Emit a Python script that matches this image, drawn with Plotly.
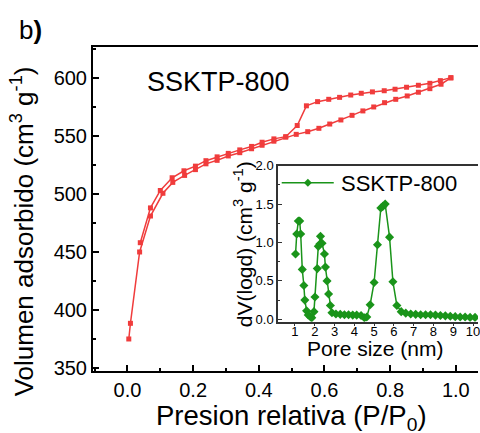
import plotly.graph_objects as go

# Nitrogen isotherm (main plot)
ads_p = [0.004, 0.009, 0.037, 0.070, 0.108, 0.138, 0.174, 0.207, 0.239, 0.273, 0.307, 0.342,
         0.378, 0.410, 0.446, 0.482, 0.514, 0.549, 0.583, 0.616, 0.650, 0.684, 0.717, 0.750,
         0.783, 0.817, 0.852, 0.886, 0.921, 0.955, 0.985]
ads_v = [375, 388.5, 450, 481, 500.6, 510, 516, 521, 526, 529, 532.8, 535.6,
         539, 542, 545.5, 549, 551.4, 553.7, 556.6, 560.3, 563.8, 567.8, 571.6, 575,
         578.7, 581.6, 584.5, 587.7, 590.8, 594.6, 600]
des_p = [0.985, 0.953, 0.921, 0.886, 0.850, 0.815, 0.782, 0.746, 0.712, 0.680, 0.646, 0.613,
         0.579, 0.545, 0.517, 0.482, 0.446, 0.410, 0.378, 0.342, 0.307, 0.273, 0.239, 0.207,
         0.172, 0.136, 0.100, 0.070, 0.039]
des_v = [600.3, 597.7, 595.4, 593.7, 592, 590.3, 589, 588, 586.8, 585.3, 583.3, 581.6,
         579.6, 576, 559, 549.4, 547.5, 544.6, 541, 538, 535, 532, 528.7, 524,
         520, 514, 503, 488, 458]

# Pore size distribution (inset)
pore_d = [1.03, 1.09, 1.17, 1.24, 1.29, 1.37, 1.45, 1.50, 1.59, 1.67, 1.79, 1.85, 1.96,
          2.01, 2.13, 2.18, 2.26, 2.29, 2.37, 2.49, 2.54, 2.62, 2.70, 2.79, 2.87,
          3.07, 3.29, 3.50, 3.71, 3.92, 4.12, 4.34, 4.51, 4.63, 4.80,
          5.00, 5.17, 5.34, 5.44, 5.56, 5.78, 5.95, 6.15, 6.37, 6.60, 6.85, 7.10,
          7.35, 7.60, 7.85, 8.10, 8.35, 8.60, 8.85, 9.10, 9.35, 9.60, 9.85, 10.10]
pore_dv = [0.85, 1.11, 1.28, 1.28, 1.11, 0.65, 0.44, 0.25, 0.11, 0.056, 0.03, 0.02, 0.10,
           0.29, 0.66, 0.95, 0.98, 1.08, 0.99, 0.85, 0.68, 0.50, 0.33, 0.18, 0.086,
           0.07, 0.065, 0.06, 0.06, 0.055, 0.055, 0.05, 0.02, 0.03, 0.19,
           0.48, 0.97, 1.45, 1.47, 1.50, 1.07, 0.49, 0.18, 0.10, 0.08, 0.07, 0.065,
           0.06, 0.06, 0.06, 0.055, 0.05, 0.045, 0.04, 0.035, 0.03, 0.03, 0.025, 0.025]

main_xticks = [0.0, 0.2, 0.4, 0.6, 0.8, 1.0]
main_yticks = [350, 400, 450, 500, 550, 600]
inset_xticks = [1, 2, 3, 4, 5, 6, 7, 8, 9, 10]
inset_yticks = [0.0, 0.5, 1.0, 1.5, 2.0]

RED = "#F03C3C"
GREEN = "#1A941A"
FONT = "Liberation Sans, Arial, sans-serif"

fig = go.Figure()
fig.add_trace(go.Scatter(x=ads_p, y=ads_v, mode="lines+markers",
                         line=dict(color=RED, width=1.5),
                         marker=dict(symbol="square", size=5, color=RED), showlegend=False))
fig.add_trace(go.Scatter(x=des_p, y=des_v, mode="lines+markers",
                         line=dict(color=RED, width=1.5),
                         marker=dict(symbol="square", size=5, color=RED), showlegend=False))
fig.add_trace(go.Scatter(x=pore_d, y=pore_dv, xaxis="x2", yaxis="y2", mode="lines+markers",
                         line=dict(color=GREEN, width=1.5),
                         marker=dict(symbol="diamond", size=7, color=GREEN), showlegend=False))

L, R, T, B = 93, 0, 47, 62
W, H = 480, 433
PW, PH = W - L - R, H - T - B

def px(xp):
    return (xp - L) / PW

def py(yp):
    return (H - B - yp) / PH

fig.update_layout(
    width=W, height=H,
    margin=dict(l=L, r=R, t=T, b=B, pad=0),
    paper_bgcolor="white", plot_bgcolor="white",
    font=dict(family=FONT, color="black"),
    xaxis=dict(range=[-0.105, 1.0676], domain=[0, 1], tickvals=main_xticks,
               ticktext=[f"{v:.1f}" for v in main_xticks],
               ticks="inside", ticklen=6, tickwidth=2, tickcolor="black",
               minor=dict(ticks="inside", ticklen=3, tickwidth=2, dtick=0.1, tick0=0, tickcolor="black"),
               showline=True, linecolor="black", linewidth=2, mirror=True,
               showgrid=False, zeroline=False, tickfont=dict(size=20)),
    yaxis=dict(range=[347.4, 626.7], domain=[0, 1], tickvals=main_yticks,
               ticks="inside", ticklen=6, tickwidth=2, tickcolor="black",
               minor=dict(ticks="inside", ticklen=3, tickwidth=2, dtick=25, tick0=350, tickcolor="black"),
               showline=True, linecolor="black", linewidth=2,
               showgrid=False, zeroline=False, tickfont=dict(size=20)),
    xaxis2=dict(range=[0.145, 10.25], domain=[px(279), 1.0], anchor="y2",
                tickvals=inset_xticks, ticks="outside", ticklen=3, tickwidth=1, tickcolor="#333",
                ticklabelstandoff=-6, ticklabeloverflow="allow",
                showline=True, linecolor="#333", linewidth=1.5, mirror=True,
                showgrid=False, zeroline=False, tickfont=dict(size=13)),
    yaxis2=dict(range=[-0.031, 2.0], domain=[py(321.7), py(165.7)], anchor="x2",
                tickvals=inset_yticks, ticktext=[f"{v:.1f}" for v in inset_yticks],
                ticks="inside", ticklen=4, tickwidth=1, tickcolor="#333",
                minor=dict(ticks="inside", ticklen=2, dtick=0.25, tick0=0, tickcolor="#333"),
                showline=True, linecolor="#333", linewidth=1.5,
                showgrid=False, zeroline=False, tickfont=dict(size=13)),
)

ann = [
    dict(text="b<b>)</b>", x=px(17), y=py(30), xanchor="left", yanchor="middle", font=dict(size=26)),
    dict(text="SSKTP-800", x=px(145), y=py(82), xanchor="left", yanchor="middle", font=dict(size=27)),
    dict(text="Volumen adsorbido (cm<sup>3</sup> g<sup>-1</sup>)", x=px(22), y=py(231),
         xanchor="center", yanchor="middle", textangle=-90, font=dict(size=26)),
    dict(text="Presion relativa (P/P<sub>0</sub>)", x=px(292.5), y=py(417),
         xanchor="center", yanchor="middle", font=dict(size=27.5)),
    dict(text="dV(logd) (cm<sup>3</sup> g<sup>-1</sup>)", x=px(244), y=py(244),
         xanchor="center", yanchor="middle", textangle=-90, font=dict(size=21)),
    dict(text="Pore size (nm)", x=px(376.7), y=py(348.5),
         xanchor="center", yanchor="middle", font=dict(size=21)),
    dict(text="SSKTP-800", x=px(340), y=py(183.4), xanchor="left", yanchor="middle", font=dict(size=22)),
]
for a in ann:
    a.update(xref="paper", yref="paper", showarrow=False)
fig.update_layout(annotations=ann)

# legend sample for inset
lx0, lx1, ly, mx = 282.7, 335, 182.7, 309
d = 4
fig.update_layout(shapes=[
    dict(type="line", xref="paper", yref="paper", x0=px(lx0), x1=px(lx1), y0=py(ly), y1=py(ly),
         line=dict(color=GREEN, width=1.5)),
    dict(type="path", xref="paper", yref="paper",
         path=f"M {px(mx)},{py(ly - d)} L {px(mx + d)},{py(ly)} L {px(mx)},{py(ly + d)} L {px(mx - d)},{py(ly)} Z",
         fillcolor=GREEN, line=dict(color=GREEN, width=0)),
])

fig.write_html("out.html")
